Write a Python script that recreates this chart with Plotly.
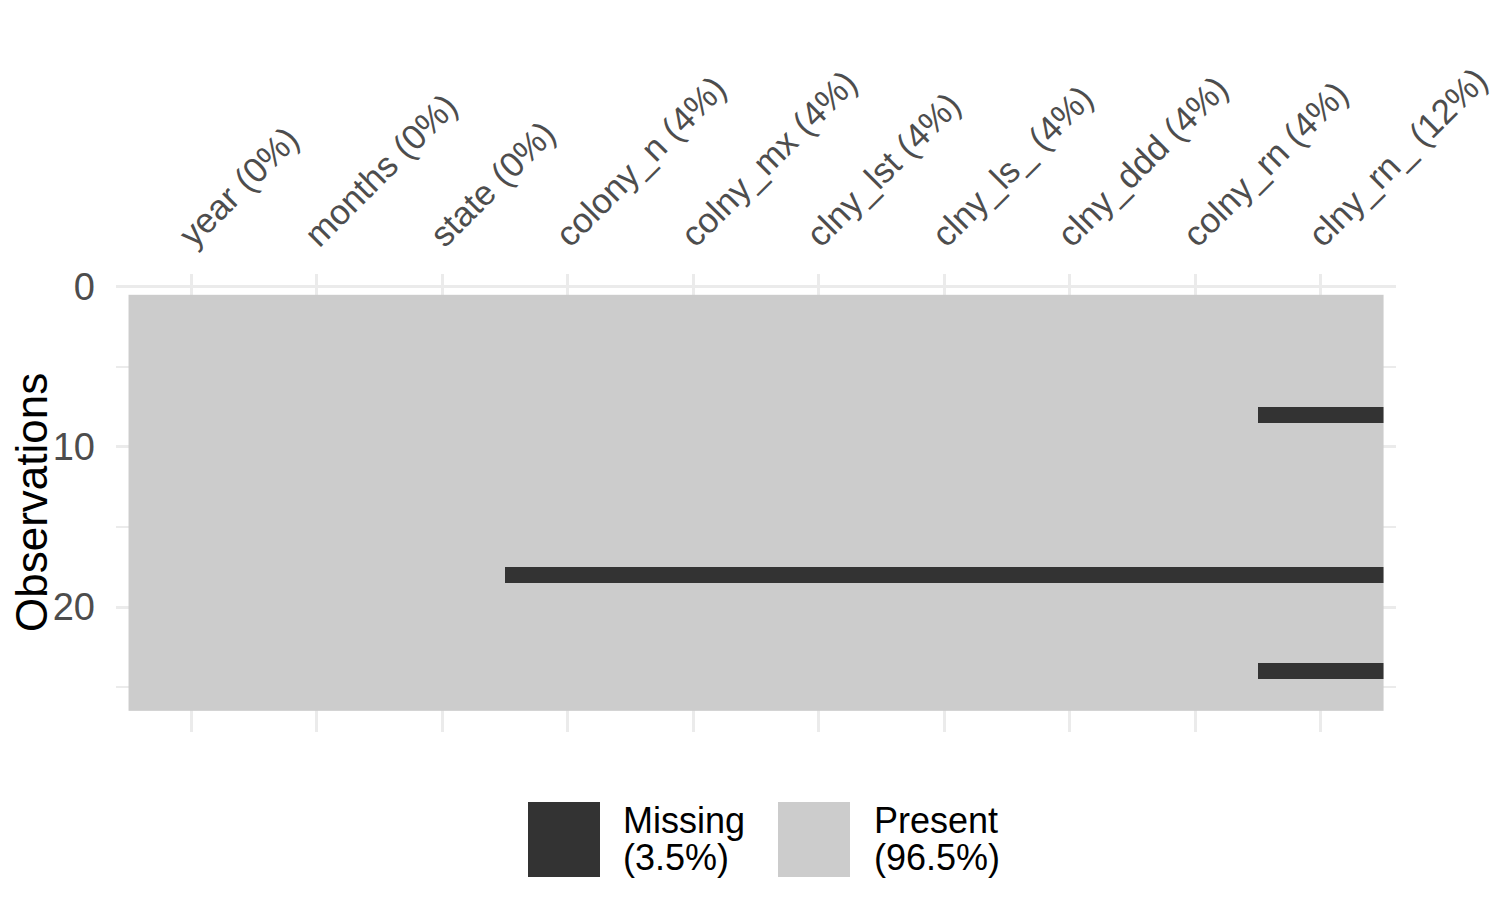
import plotly.graph_objects as go

# columns of the data frame and the rows (1-based) where each one is missing
columns = ["year", "months", "state", "colony_n", "colny_mx",
           "clny_lst", "clny_ls_", "clny_ddd", "colny_rn", "clny_rn_"]
missing_rows = [[], [], [], [18], [18], [18], [18], [18], [18], [8, 18, 24]]
n_obs = 26
observations = list(range(1, n_obs + 1))
y_ticks = [0, 10, 20]
y_minor = [5, 15, 25]

MISSING = "#333333"
PRESENT = "#CCCCCC"
GRID = "#EBEBEB"
FONT = "Liberation Sans, Arial, sans-serif"

W, H = 1500, 900
OFF = 8  # page body margin that the browser puts round the figure
L, R, T, B = 116 - OFF, 104 + OFF, 274 - OFF, 168 + OFF

# 1 = missing, 0 = present
z = [[1 if obs in missing_rows[j] else 0 for j in range(len(columns))] for obs in observations]

n_missing = sum(len(m) for m in missing_rows)
pct_missing = 100 * n_missing / (n_obs * len(columns))
col_labels = ["%s (%d%%)" % (c, round(100 * len(m) / n_obs)) for c, m in zip(columns, missing_rows)]

fig = go.Figure()
fig.add_trace(go.Heatmap(
    x=col_labels, y=observations, z=z,
    zmin=0, zmax=1,
    colorscale=[[0, PRESENT], [0.5, PRESENT], [0.5, MISSING], [1, MISSING]],
    showscale=False, hoverinfo="skip",
))


def px(xp):
    return (xp - OFF - L) / (W - L - R)


def py(yp):
    return (H - B - (yp - OFF)) / (H - T - B)


# legend drawn by hand so the keys get the large ggplot size
shapes = []
annotations = []
legend = [("Missing", "(%.1f%%)" % pct_missing, MISSING, 528, 621),
          ("Present", "(%.1f%%)" % (100 - pct_missing), PRESENT, 778, 872)]
for name, pct, col, kx, tx in legend:
    shapes.append(dict(type="rect", xref="paper", yref="paper",
                       x0=px(kx), x1=px(kx + 72), y0=py(877), y1=py(802),
                       fillcolor=col, line=dict(width=0), layer="above"))
    for txt, yy in [(name, 820), (pct, 858)]:
        annotations.append(dict(text=txt, xref="paper", yref="paper",
                                x=px(tx), y=py(yy), xanchor="left", yanchor="middle",
                                showarrow=False, font=dict(size=36, color="black", family=FONT)))

# y axis title as a rotated annotation (standoff is ignored without automargin)
annotations.append(dict(text="Observations", xref="paper", yref="paper",
                        x=px(31), y=py(503), xanchor="center", yanchor="middle",
                        textangle=-90, showarrow=False,
                        font=dict(size=44, color="black", family=FONT)))

fig.update_layout(
    width=W, height=H,
    margin=dict(l=L, r=R, t=T, b=B),
    plot_bgcolor="white", paper_bgcolor="white",
    font=dict(family=FONT),
    shapes=shapes, annotations=annotations,
    showlegend=False,
    xaxis=dict(
        side="top", tickangle=-45, range=[-0.6, len(columns) - 0.4],
        showgrid=True, gridcolor=GRID, gridwidth=3,
        tickfont=dict(size=35, color="#4D4D4D"),
        ticks="", showline=False, zeroline=False,
        ticklabelstandoff=12, ticklabelshift=-10, automargin=False,
    ),
    yaxis=dict(
        range=[n_obs + 1.8, -0.8],
        tickvals=y_ticks, showgrid=True, gridcolor=GRID, gridwidth=3,
        minor=dict(tickvals=y_minor, showgrid=True, gridcolor=GRID, gridwidth=2),
        tickfont=dict(size=38, color="#4D4D4D"),
        ticks="", showline=False, zeroline=False,
        ticklabelstandoff=20, automargin=False,
    ),
)

fig.write_html("out.html")
